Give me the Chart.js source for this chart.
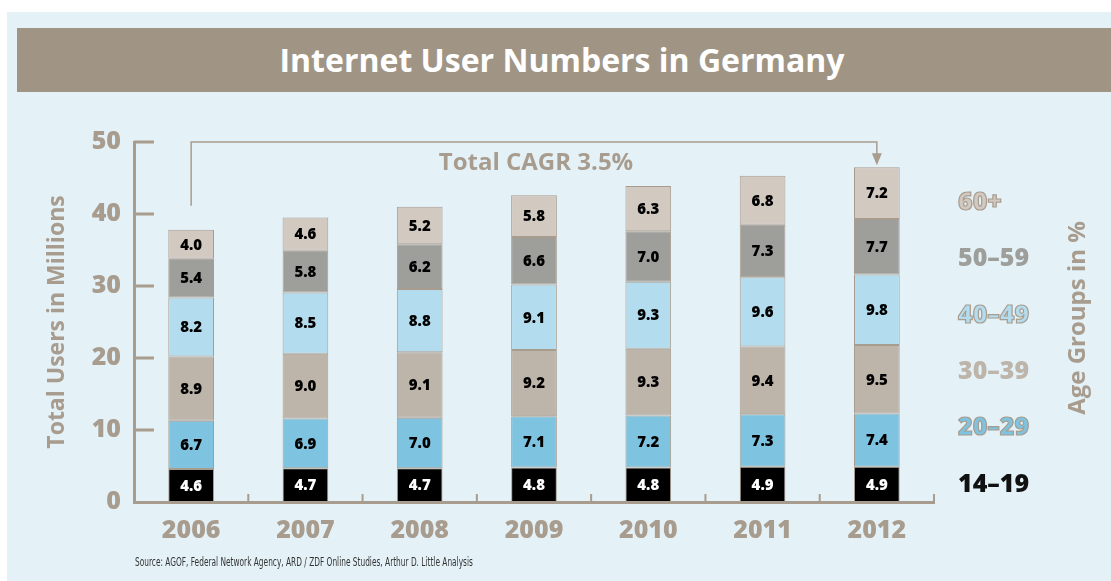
<!DOCTYPE html>
<html lang="en">
<head>
    <meta charset="UTF-8">
    <title>Internet User Numbers in Germany</title>
    <script src="https://cdn.jsdelivr.net/npm/chart.js"></script>
    <style>
        body {
            margin: 0;
            background: #ffffff;
            font-family: "Open Sans", Arial, sans-serif;
        }
        #panel {
            position: absolute;
            left: 7px; top: 12px;
            width: 1104px; height: 569px;
            background: #e4f2f8;
        }
        #title {
            position: absolute;
            left: 17px; top: 28px;
            width: 1094px; height: 64px;
            background: #a09585;
            color: #ffffff;
            font: bold 32px "Open Sans", sans-serif;
            line-height: 64px;
            text-align: center;
            padding-right: 4px;
            box-sizing: border-box;
        }
        #source {
            position: absolute;
            left: 135px; top: 555px;
            font: 12px "DejaVu Sans Condensed", sans-serif;
            color: #333333;
            white-space: nowrap;
            transform-origin: left center;
        }
        #chart {
            position: absolute;
            left: 0; top: 0;
        }
    </style>
</head>
<body>
    <div id="panel"></div>
    <div id="title">Internet User Numbers in Germany</div>
    <canvas id="chart" width="1111" height="581"></canvas>
    <div id="source">Source: AGOF, Federal Network Agency, ARD / ZDF Online Studies, Arthur D. Little Analysis</div>

    <script>
        // data (millions of users)
        const years = ['2006', '2007', '2008', '2009', '2010', '2011', '2012'];
        const age14_19 = [4.6, 4.7, 4.7, 4.8, 4.8, 4.9, 4.9];
        const age20_29 = [6.7, 6.9, 7.0, 7.1, 7.2, 7.3, 7.4];
        const age30_39 = [8.9, 9.0, 9.1, 9.2, 9.3, 9.4, 9.5];
        const age40_49 = [8.2, 8.5, 8.8, 9.1, 9.3, 9.6, 9.8];
        const age50_59 = [5.4, 5.8, 6.2, 6.6, 7.0, 7.3, 7.7];
        const age60plus = [4.0, 4.6, 5.2, 5.8, 6.3, 6.8, 7.2];
        const groupNames = ['14–19', '20–29', '30–39', '40–49', '50–59', '60+'];
        const yTicks = [0, 10, 20, 30, 40, 50];
        const cagrText = 'Total CAGR 3.5%';

        const taupe = '#a89c8e';
        const fontName = '"Open Sans", sans-serif';
        const fills = ['#000000', '#7ec3e0', '#bdb4aa', '#b3ddee', '#9e9e9b', '#d2c9c1'];
        const labelFills = ['#111111', '#7ec3e0', '#bdb4aa', '#b3ddee', '#9e9e9b', '#d2c9c1'];

        const series = [age14_19, age20_29, age30_39, age40_49, age50_59, age60plus];

        // squeeze the source line to the narrow width of the original
        const src = document.getElementById('source');
        src.style.transform = 'scaleX(' + (338 / src.offsetWidth) + ')';

        // values inside the segments
        const segmentLabels = {
            id: 'segmentLabels',
            afterDatasetsDraw(chart) {
                const ctx = chart.ctx;
                ctx.save();
                ctx.font = '800 15px ' + fontName;
                ctx.textAlign = 'center';
                ctx.textBaseline = 'middle';
                chart.data.datasets.forEach((ds, i) => {
                    chart.getDatasetMeta(i).data.forEach((bar, j) => {
                        ctx.fillStyle = i === 0 ? '#ffffff' : '#000000';
                        ctx.fillText(ds.data[j].toFixed(1), bar.x, (bar.y + bar.base) / 2 + 1);
                    });
                });
                ctx.restore();
            }
        };

        // inward tick marks, category ticks, CAGR bracket, legend text
        const decorations = {
            id: 'decorations',
            afterDraw(chart) {
                const ctx = chart.ctx;
                const x = chart.scales.x;
                const y = chart.scales.y;
                const area = chart.chartArea;
                ctx.save();
                ctx.strokeStyle = taupe;
                ctx.lineWidth = 3;

                // y tick marks pointing into the plot
                yTicks.slice(1).forEach(v => {
                    const py = y.getPixelForValue(v);
                    ctx.beginPath();
                    ctx.moveTo(area.left, py);
                    ctx.lineTo(area.left + 20, py);
                    ctx.stroke();
                });

                // category separators on the x axis
                ctx.lineWidth = 2;
                for (let i = 0; i < years.length; i++) {
                    const px = i < years.length - 1
                        ? (x.getPixelForValue(i) + x.getPixelForValue(i + 1)) / 2
                        : area.right;
                    ctx.beginPath();
                    ctx.moveTo(px, area.bottom);
                    ctx.lineTo(px, area.bottom - 8);
                    ctx.stroke();
                }

                // CAGR bracket
                const first = series.reduce((s, a) => s + a[0], 0);
                const last = series.reduce((s, a) => s + a[years.length - 1], 0);
                const x0 = x.getPixelForValue(0);
                const x1 = x.getPixelForValue(years.length - 1);
                const top = y.getPixelForValue(50);
                const endY = y.getPixelForValue(last) - 2;
                ctx.lineWidth = 1.5;
                ctx.beginPath();
                ctx.moveTo(x0, y.getPixelForValue(first) - 24);
                ctx.lineTo(x0, top);
                ctx.lineTo(x1, top);
                ctx.lineTo(x1, endY - 10);
                ctx.stroke();
                ctx.fillStyle = taupe;
                ctx.beginPath();
                ctx.moveTo(x1 - 5, endY - 12);
                ctx.lineTo(x1 + 5, endY - 12);
                ctx.lineTo(x1, endY);
                ctx.closePath();
                ctx.fill();

                ctx.font = 'bold 24px ' + fontName;
                ctx.textAlign = 'center';
                ctx.textBaseline = 'middle';
                ctx.fillText(cagrText, 536, 163);

                // legend labels on the right
                ctx.font = '800 25px ' + fontName;
                ctx.textAlign = 'left';
                ctx.lineWidth = 1.2;
                ctx.strokeStyle = taupe;
                const legendY = [485, 428, 372, 316, 259, 203];
                groupNames.forEach((name, i) => {
                    ctx.fillStyle = labelFills[i];
                    ctx.fillText(name, 958, legendY[i]);
                    if (i === 3 || i === 5 || i === 1) ctx.strokeText(name, 958, legendY[i]);
                });

                // right-hand title
                ctx.font = 'bold 24px ' + fontName;
                ctx.fillStyle = taupe;
                ctx.translate(1078, 318);
                ctx.rotate(-Math.PI / 2);
                ctx.textAlign = 'center';
                ctx.fillText('Age Groups in %', 0, 0);
                ctx.restore();
            }
        };

        function drawChart() {
            new Chart(document.getElementById('chart'), {
                type: 'bar',
                data: {
                    labels: years,
                    datasets: series.map((vals, i) => ({
                        label: groupNames[i],
                        data: vals,
                        backgroundColor: fills[i],
                        borderColor: taupe,
                        borderWidth: 1,
                        borderSkipped: false,
                        barPercentage: 0.4,
                        categoryPercentage: 1
                    }))
                },
                options: {
                    responsive: false,
                    devicePixelRatio: 1,
                    animation: false,
                    layout: { padding: { left: 0, right: 177, top: 142, bottom: 40 } },
                    plugins: {
                        legend: { display: false },
                        tooltip: { enabled: false }
                    },
                    scales: {
                        x: {
                            stacked: true,
                            grid: { display: false, drawTicks: false },
                            border: { display: true, color: taupe, width: 3 },
                            ticks: {
                                color: taupe,
                                padding: 14,
                                font: { family: '"Open Sans"', weight: 800, size: 25 }
                            },
                            afterFit(scale) { scale.height = 39; }
                        },
                        y: {
                            stacked: true,
                            min: 0,
                            max: 50,
                            grid: { display: false, drawTicks: false },
                            border: { display: true, color: taupe, width: 3 },
                            ticks: {
                                stepSize: 10,
                                color: taupe,
                                padding: 13,
                                font: { family: '"Open Sans"', weight: 800, size: 25 }
                            },
                            title: {
                                display: true,
                                text: 'Total Users in Millions',
                                color: taupe,
                                padding: { top: 44, bottom: 0 },
                                font: { family: '"Open Sans"', weight: 'bold', size: 23 }
                            },
                            afterFit(scale) { scale.width = 134; }
                        }
                    }
                },
                plugins: [segmentLabels, decorations]
            });
        }

        Promise.all([
            document.fonts.load('bold 22px "Open Sans"'),
            document.fonts.load('800 22px "Open Sans"')
        ]).then(drawChart, drawChart);
    </script>
</body>
</html>
